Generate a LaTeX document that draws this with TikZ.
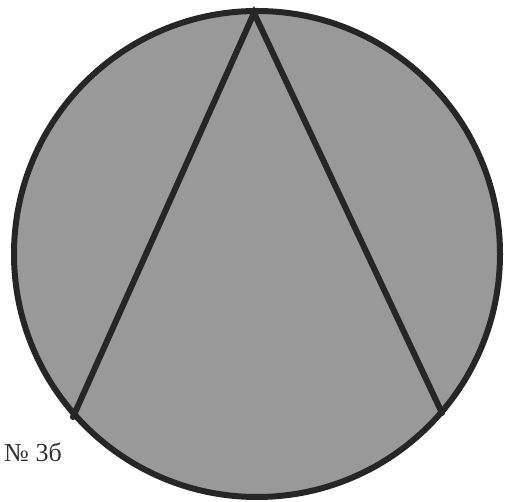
\documentclass[tikz,border=0pt]{standalone}
\usepackage{fontspec}
\setmainfont{Liberation Serif}
\begin{document}
\begin{tikzpicture}[x=1pt,y=-1pt,
  disc/.style={draw=black!85,fill=black!40,line width=6pt},
  chord/.style={draw=black!85,line width=6pt,line cap=round},
  lbl/.style={font=\fontsize{26}{30}\selectfont,text=black!80,inner sep=0pt}]
\useasboundingbox (0,0) rectangle (506,502);
\coordinate (c) at (257,254);
\draw[disc] (c) circle[radius=243];
\path (c) ++(-3,-241) coordinate (t)
      (c) ++(-184,163) coordinate (l)
      (c) ++(185,159) coordinate (r);
\draw[chord] (l) -- (t) -- (r);
\node[lbl,anchor=west] (lab) at (4,452) {№ 3б};
\end{tikzpicture}
\end{document}
